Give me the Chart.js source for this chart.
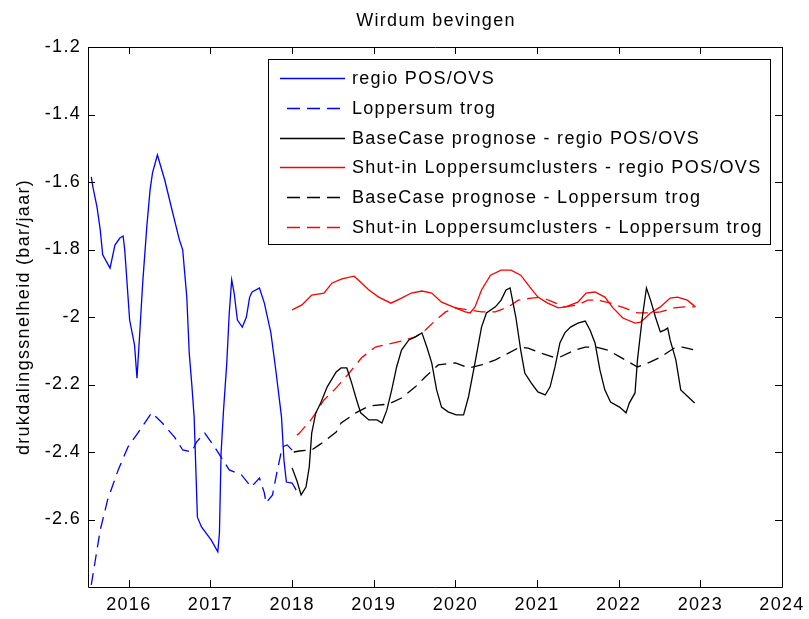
<!DOCTYPE html>
<html>
<head>
<meta charset="utf-8">
<script src="https://cdn.jsdelivr.net/npm/chart.js@4/dist/chart.umd.min.js"></script>
<style>
  html, body { margin: 0; padding: 0; background: #fff; }
  #wrap { width: 809px; height: 619px; }
</style>
</head>
<body>
<div id="wrap"><canvas id="c" width="809" height="619"></canvas></div>
<script>
// ---------- data ----------
const titleText = 'Wirdum bevingen';
const yAxisTitle = 'drukdalingssnelheid (bar/jaar)';
const xTickValues = [2016, 2017, 2018, 2019, 2020, 2021, 2022, 2023, 2024];
const yTickValues = [-1.2, -1.4, -1.6, -1.8, -2, -2.2, -2.4, -2.6];
const seriesLabels = [
  'regio POS/OVS',
  'Loppersum trog',
  'BaseCase prognose - regio POS/OVS',
  'Shut-in Loppersumclusters - regio POS/OVS',
  'BaseCase prognose - Loppersum trog',
  'Shut-in Loppersumclusters - Loppersum trog'
];

const regioYears = [2015.54,2015.56,2015.61,2015.65,2015.68,2015.77,2015.83,2015.89,2015.93,2015.95,2016.01,2016.07,2016.10,2016.13,2016.17,2016.22,2016.26,2016.29,2016.35,2016.44,2016.52,2016.62,2016.66,2016.71,2016.74,2016.77,2016.80,2016.84,2016.89,2017.01,2017.09,2017.11,2017.13,2017.16,2017.20,2017.23,2017.26,2017.29,2017.33,2017.39,2017.44,2017.48,2017.51,2017.60,2017.66,2017.74,2017.80,2017.87,2017.90,2017.93,2018.00,2018.05];
const regioValues = [-1.585,-1.615,-1.674,-1.742,-1.816,-1.855,-1.787,-1.766,-1.760,-1.801,-2.009,-2.083,-2.181,-2.062,-1.899,-1.733,-1.624,-1.573,-1.520,-1.594,-1.674,-1.772,-1.801,-1.941,-2.107,-2.196,-2.296,-2.593,-2.622,-2.661,-2.696,-2.640,-2.403,-2.276,-2.136,-1.988,-1.890,-1.929,-2.009,-2.030,-2.000,-1.941,-1.926,-1.914,-1.959,-2.047,-2.157,-2.296,-2.424,-2.489,-2.492,-2.513];

const troggYears = [2015.54,2015.59,2015.65,2015.74,2015.87,2015.99,2016.11,2016.28,2016.41,2016.56,2016.66,2016.77,2016.83,2016.93,2017.05,2017.13,2017.23,2017.38,2017.50,2017.60,2017.66,2017.68,2017.76,2017.82,2017.88,2017.94,2018.02];
const troggValues = [-2.794,-2.720,-2.631,-2.542,-2.453,-2.385,-2.344,-2.284,-2.314,-2.356,-2.394,-2.400,-2.370,-2.344,-2.385,-2.415,-2.453,-2.468,-2.504,-2.477,-2.521,-2.551,-2.527,-2.453,-2.385,-2.379,-2.400];

const baseRegioYears = [2018.00,2018.06,2018.11,2018.17,2018.21,2018.24,2018.29,2018.35,2018.43,2018.54,2018.60,2018.67,2018.73,2018.79,2018.84,2018.94,2019.04,2019.10,2019.16,2019.22,2019.28,2019.34,2019.43,2019.51,2019.59,2019.65,2019.71,2019.77,2019.83,2019.91,2020.01,2020.10,2020.16,2020.24,2020.32,2020.38,2020.49,2020.56,2020.62,2020.67,2020.74,2020.80,2020.85,2020.93,2021.01,2021.10,2021.16,2021.22,2021.28,2021.34,2021.41,2021.50,2021.59,2021.65,2021.71,2021.77,2021.83,2021.90,2022.01,2022.09,2022.13,2022.20,2022.23,2022.29,2022.34,2022.39,2022.45,2022.51,2022.56,2022.60,2022.63,2022.70,2022.76,2022.80,2022.93];
const baseRegioValues = [-2.447,-2.486,-2.527,-2.504,-2.444,-2.344,-2.284,-2.255,-2.207,-2.163,-2.151,-2.151,-2.196,-2.246,-2.284,-2.305,-2.305,-2.314,-2.276,-2.216,-2.148,-2.098,-2.068,-2.059,-2.047,-2.089,-2.136,-2.216,-2.267,-2.281,-2.290,-2.290,-2.237,-2.136,-2.030,-1.988,-1.970,-1.950,-1.920,-1.914,-2.000,-2.098,-2.166,-2.196,-2.222,-2.231,-2.207,-2.148,-2.077,-2.047,-2.030,-2.018,-2.012,-2.039,-2.077,-2.157,-2.216,-2.252,-2.267,-2.284,-2.255,-2.225,-2.127,-2.000,-1.914,-1.950,-2.000,-2.044,-2.039,-2.033,-2.068,-2.127,-2.216,-2.225,-2.255];

const shutRegioYears = [2018.00,2018.12,2018.24,2018.39,2018.49,2018.61,2018.76,2018.85,2018.94,2019.06,2019.21,2019.34,2019.46,2019.59,2019.71,2019.83,2020.00,2020.12,2020.18,2020.24,2020.32,2020.43,2020.56,2020.68,2020.80,2020.91,2021.01,2021.13,2021.26,2021.35,2021.50,2021.60,2021.71,2021.83,2021.93,2022.05,2022.20,2022.27,2022.39,2022.51,2022.63,2022.72,2022.84,2022.94];
const shutRegioValues = [-1.979,-1.964,-1.935,-1.929,-1.899,-1.887,-1.879,-1.899,-1.920,-1.941,-1.959,-1.944,-1.929,-1.923,-1.929,-1.956,-1.973,-1.985,-1.988,-1.970,-1.920,-1.876,-1.861,-1.861,-1.876,-1.911,-1.941,-1.959,-1.973,-1.970,-1.956,-1.929,-1.926,-1.941,-1.973,-2.003,-2.018,-2.015,-1.988,-1.970,-1.944,-1.941,-1.950,-1.970];

const baseTrogYears = [2018.02,2018.09,2018.24,2018.35,2018.54,2018.60,2018.78,2018.94,2019.18,2019.34,2019.51,2019.63,2019.79,2020.00,2020.16,2020.32,2020.49,2020.65,2020.79,2020.89,2021.05,2021.20,2021.28,2021.46,2021.59,2021.72,2021.87,2022.02,2022.23,2022.39,2022.51,2022.68,2022.78,2022.93];
const baseTrogValues = [-2.400,-2.397,-2.394,-2.376,-2.341,-2.314,-2.284,-2.264,-2.258,-2.240,-2.207,-2.178,-2.142,-2.136,-2.151,-2.142,-2.127,-2.107,-2.089,-2.092,-2.107,-2.119,-2.119,-2.098,-2.089,-2.089,-2.098,-2.119,-2.148,-2.133,-2.119,-2.092,-2.089,-2.098];

const shutTrogYears = [2018.06,2018.09,2018.23,2018.29,2018.39,2018.54,2018.70,2018.85,2019.02,2019.18,2019.34,2019.51,2019.63,2019.76,2019.88,2020.00,2020.16,2020.32,2020.49,2020.65,2020.77,2020.93,2021.05,2021.20,2021.34,2021.50,2021.62,2021.74,2021.90,2022.07,2022.23,2022.39,2022.51,2022.68,2022.80,2022.93];
const shutTrogValues = [-2.350,-2.344,-2.305,-2.284,-2.246,-2.210,-2.166,-2.121,-2.089,-2.080,-2.071,-2.059,-2.039,-2.009,-1.985,-1.973,-1.979,-1.985,-1.985,-1.970,-1.950,-1.944,-1.941,-1.956,-1.970,-1.964,-1.950,-1.950,-1.959,-1.973,-1.988,-1.988,-1.985,-1.973,-1.970,-1.970];

// ---------- helpers ----------
const pts = (xs, ys) => xs.map((x, i) => ({ x: x, y: ys[i] }));
const DASH = [12, 7];
const FONT = 'Liberation Sans, Arial, Helvetica, sans-serif';
const FS = 18;

function line(label, xs, ys, color, dashed) {
  return {
    label: label,
    data: pts(xs, ys),
    borderColor: color,
    backgroundColor: color,
    borderWidth: 1.3,
    borderDash: dashed ? DASH : [],
    pointRadius: 0,
    tension: 0,
    fill: false
  };
}

const spacingPlugin = {
  id: 'spacing',
  beforeDraw(chart) { chart.ctx.letterSpacing = '1.3px'; }
};

// title centred over the plot area (as in the reference)
const titlePlugin = {
  id: 'plotTitle',
  afterDraw(chart) {
    const ctx = chart.ctx, a = chart.chartArea;
    ctx.save();
    ctx.font = FS + 'px ' + FONT;
    ctx.fillStyle = '#000';
    ctx.textAlign = 'center';
    ctx.textBaseline = 'middle';
    ctx.fillText(titleText, (a.left + a.right) / 2 + 1, 21);
    ctx.restore();
  }
};

const framePlugin = {
  id: 'frame',
  afterDraw(chart) {
    const ctx = chart.ctx, a = chart.chartArea;
    const xs = chart.scales.x, ys = chart.scales.y;
    const TL = 7;
    ctx.save();
    ctx.strokeStyle = '#000';
    ctx.lineWidth = 1;
    ctx.beginPath();
    ctx.rect(Math.round(a.left) + 0.5, Math.round(a.top) + 0.5, Math.round(a.right - a.left), Math.round(a.bottom - a.top));
    xs.ticks.forEach(t => {
      const px = Math.round(xs.getPixelForValue(t.value)) + 0.5;
      ctx.moveTo(px, a.bottom); ctx.lineTo(px, a.bottom - TL);
      ctx.moveTo(px, a.top); ctx.lineTo(px, a.top + TL);
    });
    ys.ticks.forEach(t => {
      const py = Math.round(ys.getPixelForValue(t.value)) + 0.5;
      ctx.moveTo(a.left, py); ctx.lineTo(a.left + TL, py);
      ctx.moveTo(a.right, py); ctx.lineTo(a.right - TL, py);
    });
    ctx.stroke();
    ctx.restore();
  }
};

const legendPlugin = {
  id: 'boxLegend',
  afterDatasetsDraw(chart) {
    const ctx = chart.ctx, a = chart.chartArea;
    const x0 = Math.round(a.left + 180), y0 = Math.round(a.top + 12);
    const w = 502, h = 185;
    ctx.save();
    ctx.fillStyle = '#fff';
    ctx.fillRect(x0, y0, w, h);
    ctx.strokeStyle = '#000';
    ctx.lineWidth = 1;
    ctx.strokeRect(x0 + 0.5, y0 + 0.5, w, h);
    ctx.font = FS + 'px ' + FONT;
    ctx.textBaseline = 'middle';
    ctx.textAlign = 'left';
    chart.data.datasets.forEach((ds, i) => {
      const y = Math.round(y0 + 19 + i * 29.8) + 0.5;
      ctx.beginPath();
      ctx.strokeStyle = ds.borderColor;
      ctx.lineWidth = 1.3;
      const dashed = ds.borderDash && ds.borderDash.length;
      ctx.setLineDash(dashed ? [13, 7] : []);
      ctx.moveTo(x0 + (dashed ? 19 : 12), y);
      ctx.lineTo(x0 + 77, y);
      ctx.stroke();
      ctx.setLineDash([]);
      ctx.fillStyle = '#000';
      ctx.fillText(ds.label, x0 + 84, y + 1);
    });
    ctx.restore();
  }
};

Chart.defaults.font.family = FONT;
Chart.defaults.font.size = FS;
Chart.defaults.color = '#000';

new Chart(document.getElementById('c'), {
  type: 'line',
  data: {
    datasets: [
      line(seriesLabels[0], regioYears, regioValues, '#0000ff', false),
      line(seriesLabels[1], troggYears, troggValues, '#0000ff', true),
      line(seriesLabels[2], baseRegioYears, baseRegioValues, '#000000', false),
      line(seriesLabels[3], shutRegioYears, shutRegioValues, '#ff0000', false),
      line(seriesLabels[4], baseTrogYears, baseTrogValues, '#000000', true),
      line(seriesLabels[5], shutTrogYears, shutTrogValues, '#ff0000', true)
    ]
  },
  options: {
    responsive: false,
    animation: false,
    devicePixelRatio: 1,
    layout: { padding: { left: 0, right: 24, top: 47, bottom: 0 } },
    plugins: {
      legend: { display: false },
      tooltip: { enabled: false },
      title: { display: false }
    },
    scales: {
      x: {
        type: 'linear',
        min: 2015.5,
        max: 2024,
        afterFit(s) { s.height = 32; },
        afterBuildTicks(s) { s.ticks = xTickValues.map(v => ({ value: v })); },
        grid: { display: false, drawTicks: false },
        border: { display: false },
        ticks: {
          autoSkip: false,
          maxRotation: 0,
          padding: 7,
          color: '#000',
          font: { family: FONT, size: FS },
          callback: v => String(v)
        }
      },
      y: {
        type: 'linear',
        min: -2.8,
        max: -1.2,
        afterFit(s) { s.width = 88; },
        afterBuildTicks(s) { s.ticks = yTickValues.map(v => ({ value: v })); },
        grid: { display: false, drawTicks: false },
        border: { display: false },
        ticks: {
          autoSkip: false,
          padding: 7,
          color: '#000',
          font: { family: FONT, size: FS },
          callback: v => String(v)
        },
        title: {
          display: true,
          text: yAxisTitle,
          color: '#000',
          font: { family: FONT, size: FS },
          padding: { top: 13, bottom: 0 }
        }
      }
    }
  },
  plugins: [spacingPlugin, legendPlugin, framePlugin, titlePlugin]
});
</script>
</body>
</html>
